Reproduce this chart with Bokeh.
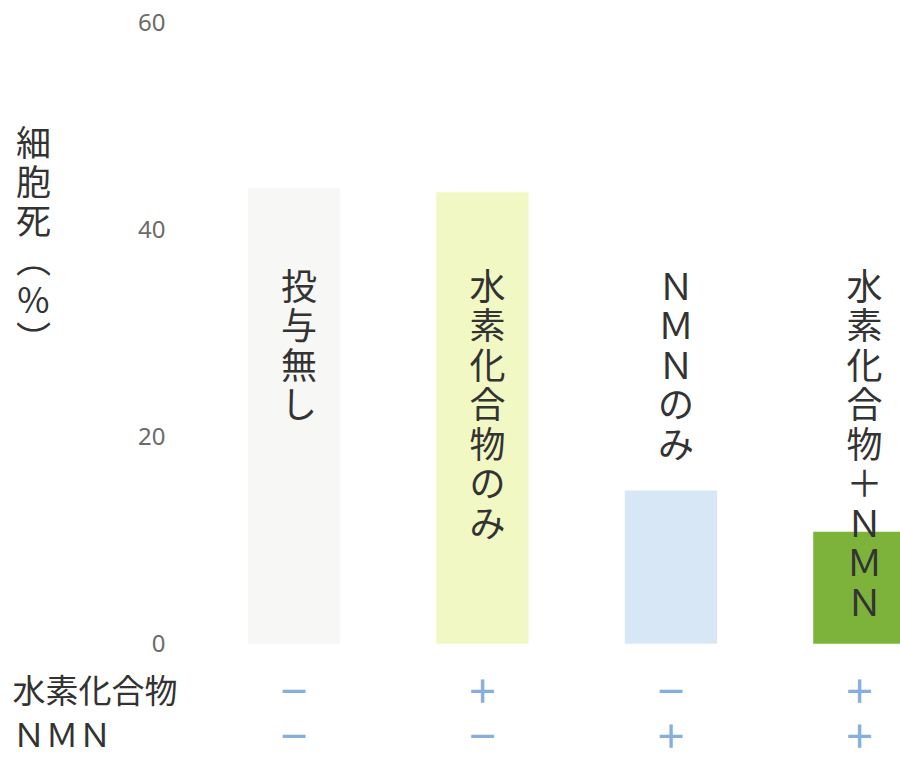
from bokeh.plotting import figure
from bokeh.models import Range1d, FixedTicker, ColumnDataSource
from bokeh.core.properties import value
from bokeh.embed import file_html
from bokeh.resources import INLINE

# ---- data ----
categories = ["投与無し", "水素化合物のみ", "ＮＭＮのみ", "水素化合物＋ＮＭＮ"]
cell_death = [44.0, 43.6, 14.8, 10.8]
hydrogen_marks = ["－", "＋", "－", "＋"]
nmn_marks = ["－", "－", "＋", "＋"]
row_titles = ["水素化合物", "ＮＭＮ"]
y_ticks = [0, 20, 40, 60]
y_title_chars = ["細", "胞", "死", "︵", "%", "︶"]
bar_colors = ["#f7f7f5", "#f2f8c4", "#d8e7f5", "#7db33b"]

CJK = value("Noto Sans CJK JP")
TEXT_COLOR = "#333333"
MARK_COLOR = "#86b0db"

idx = list(range(len(categories)))
source = ColumnDataSource(dict(
    x=idx,
    top=cell_death,
    color=bar_colors,
    label=["\n".join(c) for c in categories],
    hyd=hydrogen_marks,
    nmn=nmn_marks,
))

p = figure(width=900, height=757,
           x_range=Range1d(-1.557, 3.218), y_range=Range1d(-11.0, 62.13),
           output_backend="svg", toolbar_location=None,
           min_border_left=0, min_border_right=0, min_border_top=0, min_border_bottom=0)
p.outline_line_color = None
p.xgrid.visible = False
p.ygrid.visible = False
p.xaxis.visible = False
p.background_fill_color = "white"
p.border_fill_color = "white"

ax = p.yaxis[0]
ax.fixed_location = -0.602
ax.ticker = FixedTicker(ticks=y_ticks)
ax.axis_line_color = None
ax.major_tick_line_color = None
ax.minor_tick_line_color = None
ax.major_label_text_font = "Noto Sans"
ax.major_label_text_font_size = "24px"
ax.major_label_text_color = "#6b6b6b"
ax.major_label_standoff = 9

p.vbar(x="x", top="top", bottom=0, width=0.49, fill_color="color",
       line_color=None, source=source)

# vertical category labels
LABEL_TOP = 37.3
p.text(x="x", y=LABEL_TOP, text="label", source=source, x_offset=5,
       text_align="center", text_baseline="top", text_font=CJK,
       text_font_size="36px", text_line_height=0.76, text_color=TEXT_COLOR)

# +/- rows
p.text(x="x", y=0, text="hyd", source=source, y_offset=45,
       text_align="center", text_baseline="middle", text_font=CJK,
       text_font_size="32px", text_font_style="bold", text_color=MARK_COLOR)
p.text(x="x", y=0, text="nmn", source=source, y_offset=113,
       text_align="center", text_baseline="bottom", text_font=CJK,
       text_font_size="32px", text_font_style="bold", text_color=MARK_COLOR)

# row titles
p.text(x=[-1.493], y=[0], text=[row_titles[0]], y_offset=45,
       text_align="left", text_baseline="middle", text_font=CJK,
       text_font_size="33px", text_color=TEXT_COLOR)
p.text(x=[-1.493], y=[0], text=[row_titles[1]], y_offset=113,
       text_align="left", text_baseline="bottom", text_font=CJK,
       text_font_size="33px", text_color=TEXT_COLOR)

# vertical y-axis title
p.text(x=[-1.382], y=[51.1], text=["\n".join(y_title_chars)],
       text_align="center", text_baseline="top", text_font=CJK,
       text_font_size="35px", text_line_height=0.77, text_color=TEXT_COLOR)

open("out.html", "w").write(file_html(p, INLINE))
